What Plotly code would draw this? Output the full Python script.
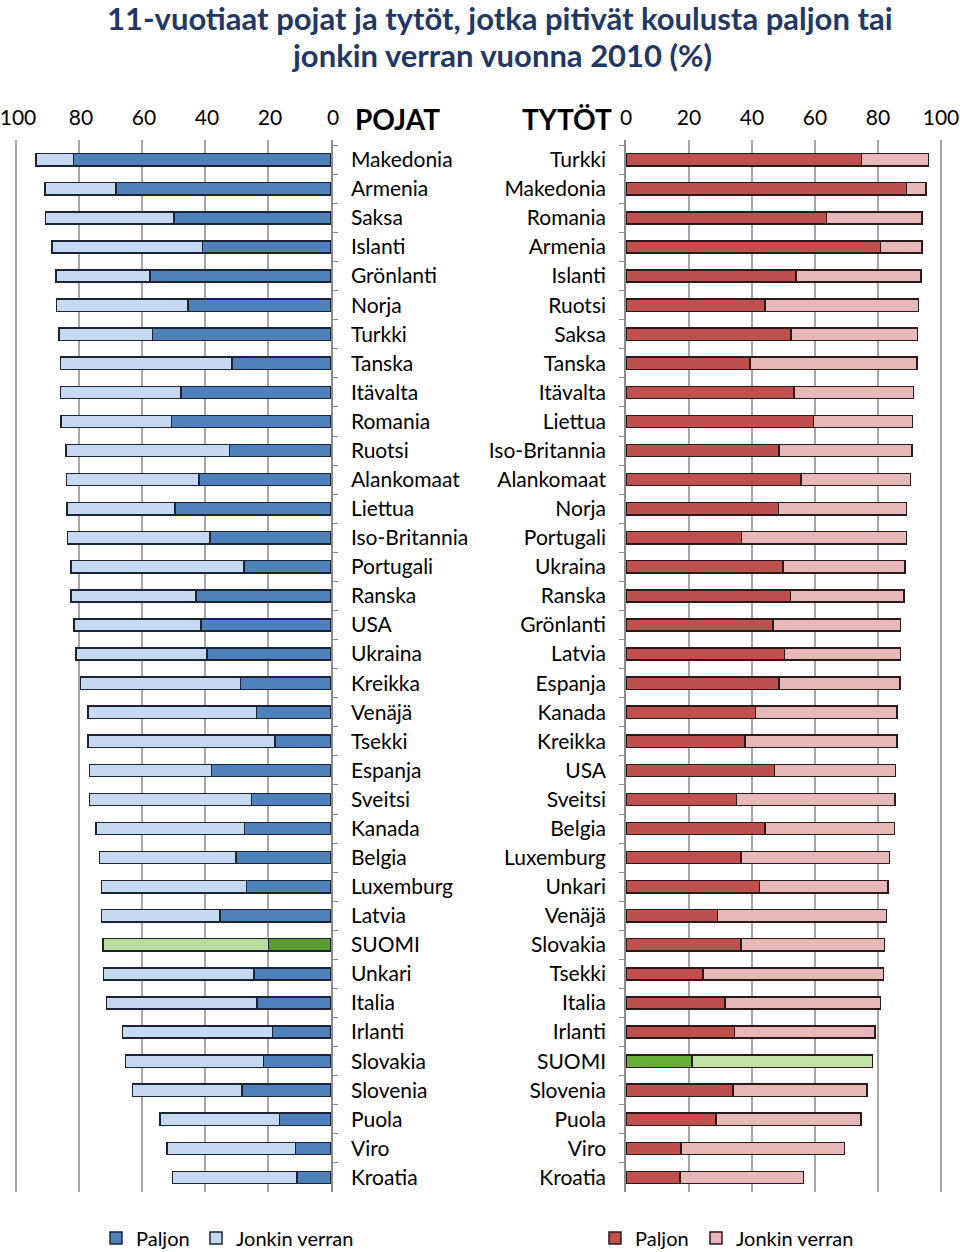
import plotly.graph_objects as go

boys_countries = ["Makedonia", "Armenia", "Saksa", "Islanti", "Grönlanti", "Norja", "Turkki", "Tanska",
                  "Itävalta", "Romania", "Ruotsi", "Alankomaat", "Liettua", "Iso-Britannia", "Portugali",
                  "Ranska", "USA", "Ukraina", "Kreikka", "Venäjä", "Tsekki", "Espanja", "Sveitsi", "Kanada",
                  "Belgia", "Luxemburg", "Latvia", "SUOMI", "Unkari", "Italia", "Irlanti", "Slovakia",
                  "Slovenia", "Puola", "Viro", "Kroatia"]
boys_paljon = [81.8, 68.3, 49.9, 40.8, 57.5, 45.4, 56.6, 31.5, 47.6, 50.7, 32.3, 41.9, 49.5, 38.4, 27.6,
               42.8, 41.3, 39.4, 28.7, 23.6, 17.8, 38.0, 25.2, 27.4, 30.2, 26.9, 35.3, 19.9, 24.4, 23.5,
               18.6, 21.5, 28.2, 16.3, 11.2, 10.8]
boys_jonkin = [11.8, 22.5, 40.8, 47.8, 29.8, 41.8, 29.8, 54.4, 38.3, 35.0, 51.9, 42.1, 34.3, 45.3, 54.9,
               39.7, 40.3, 41.5, 50.8, 53.5, 59.3, 38.6, 51.4, 47.2, 43.3, 46.0, 37.5, 52.5, 47.8, 47.7,
               47.6, 43.8, 34.8, 38.0, 40.9, 39.5]

girls_countries = ["Turkki", "Makedonia", "Romania", "Armenia", "Islanti", "Ruotsi", "Saksa", "Tanska",
                   "Itävalta", "Liettua", "Iso-Britannia", "Alankomaat", "Norja", "Portugali", "Ukraina",
                   "Ranska", "Grönlanti", "Latvia", "Espanja", "Kanada", "Kreikka", "USA", "Sveitsi",
                   "Belgia", "Luxemburg", "Unkari", "Venäjä", "Slovakia", "Tsekki", "Italia", "Irlanti",
                   "SUOMI", "Slovenia", "Puola", "Viro", "Kroatia"]
girls_paljon = [74.7, 89.1, 63.7, 80.8, 53.9, 44.2, 52.4, 39.4, 53.3, 59.5, 48.6, 55.6, 48.4, 36.6, 49.8,
                52.2, 46.6, 50.3, 48.6, 41.1, 37.8, 47.2, 35.1, 44.2, 36.5, 42.4, 29.1, 36.5, 24.4, 31.4,
                34.5, 21.0, 33.9, 28.6, 17.5, 17.1]
girls_jonkin = [21.4, 6.1, 30.3, 13.1, 39.8, 48.6, 40.1, 52.9, 37.9, 31.4, 42.2, 34.7, 40.7, 52.4, 38.8,
                36.1, 40.5, 36.8, 38.3, 45.0, 48.2, 38.3, 50.3, 41.0, 47.2, 40.8, 53.6, 45.6, 57.3, 49.4,
                44.5, 57.2, 42.6, 46.0, 51.8, 39.3]

x_ticks = [0, 20, 40, 60, 80, 100]
highlight = "SUOMI"
title_lines = ["11-vuotiaat pojat ja tytöt, jotka pitivät koulusta paljon tai",
               "jonkin verran vuonna 2010 (%)"]

FONT = "Lato, 'Open Sans', sans-serif"
BLUE_D, BLUE_L = "#4F81BD", "#C6D9F1"
RED_D, RED_L = "#C0504D", "#E6B9B8"
GREEN_D_B, GREEN_L_B = "#5B9B30", "#B9DCA0"
GREEN_D_G, GREEN_L_G = "#6AAE3A", "#C3E2A7"

W, H = 960, 1252
L, R, T, B = 14, 17, 140, 60
PW, PH = W - L - R, H - T - B
XMAX = 100.63  # small pad so the 100 gridline is drawn inside the plot area

def colors(countries, normal, hl):
    return [hl if c == highlight else normal for c in countries]

def px_to_paper_y(ypx):
    return 1 - (ypx - T) / PH

def px_to_paper_x(xpx):
    return (xpx - L) / PW

fig = go.Figure()
bar_w = 0.42
specs = [
    (boys_countries, boys_paljon, "Paljon", colors(boys_countries, BLUE_D, GREEN_D_B), "#1a2433", "x", "y", "legend"),
    (boys_countries, boys_jonkin, "Jonkin verran", colors(boys_countries, BLUE_L, GREEN_L_B), "#1a2433", "x", "y", "legend2"),
    (girls_countries, girls_paljon, "Paljon", colors(girls_countries, RED_D, GREEN_D_G), "#2a1a1a", "x2", "y2", "legend3"),
    (girls_countries, girls_jonkin, "Jonkin verran", colors(girls_countries, RED_L, GREEN_L_G), "#2a1a1a", "x2", "y2", "legend4"),
]
for cats, vals, name, cols, lc, xa, ya, lg in specs:
    fig.add_trace(go.Bar(y=cats, x=vals, orientation="h", name=name,
                         marker=dict(color=cols, line=dict(color=lc, width=1.5)),
                         width=bar_w, xaxis=xa, yaxis=ya, legend=lg))

n = len(boys_countries)
yrange = [n - 0.5, -0.68]
common_x = dict(tickvals=x_ticks, ticktext=[str(v) for v in x_ticks], side="top",
                showgrid=True, gridcolor="#A6A6A6", gridwidth=1.5, zeroline=False, showline=False,
                ticks="", ticklabelstandoff=10, automargin=False, ticklabeloverflow="allow",
                tickfont=dict(size=21, color="black", family=FONT), fixedrange=True)
common_y = dict(categoryorder="array", range=yrange, showline=True, linecolor="#8C8C8C", linewidth=1.5,
                ticks="outside", tickson="boundaries", ticklen=5, tickcolor="#8C8C8C",
                ticklabelstandoff=14, showgrid=False, automargin=False,
                tickfont=dict(size=21, color="black", family=FONT), fixedrange=True)

legend_common = dict(orientation="h", xref="container", yref="container", xanchor="left",
                     y=1 - 1238 / H, yanchor="middle", traceorder="normal",
                     font=dict(size=20, color="black", family=FONT), bgcolor="rgba(0,0,0,0)")

annotations = [
    dict(text="<b>" + title_lines[0] + "</b>", xref="paper", yref="paper", x=px_to_paper_x(500), xanchor="center",
         y=px_to_paper_y(18), yanchor="middle", showarrow=False, borderpad=0,
         font=dict(size=31, color="#1F3864", family=FONT)),
    dict(text="<b>" + title_lines[1] + "</b>", xref="paper", yref="paper", x=px_to_paper_x(501), xanchor="center",
         y=px_to_paper_y(55), yanchor="middle", showarrow=False, borderpad=0,
         font=dict(size=31, color="#1F3864", family=FONT)),
    dict(text="<b>POJAT</b>", xref="paper", yref="paper", x=px_to_paper_x(353), xanchor="left",
         y=px_to_paper_y(119), yanchor="middle", showarrow=False,
         font=dict(size=28, color="black", family=FONT)),
    dict(text="<b>TYTÖT</b>", xref="paper", yref="paper", x=px_to_paper_x(614), xanchor="right",
         y=px_to_paper_y(119), yanchor="middle", showarrow=False,
         font=dict(size=28, color="black", family=FONT)),
]

fig.update_layout(
    width=W, height=H,
    margin=dict(l=L, r=R, t=T, b=B, autoexpand=False),
    paper_bgcolor="white", plot_bgcolor="white",
    barmode="stack",
    font=dict(family=FONT, color="black"),
    xaxis=dict(common_x, domain=[0, px_to_paper_x(331)], range=[XMAX, 0], anchor="y", ticklabelshift=-2),
    xaxis2=dict(common_x, domain=[px_to_paper_x(626), 1], range=[0, XMAX], anchor="y2"),
    yaxis=dict(common_y, categoryarray=boys_countries, anchor="x", side="right"),
    yaxis2=dict(common_y, categoryarray=girls_countries, anchor="x2", side="left"),
    legend=dict(legend_common, x=96 / W),
    legend2=dict(legend_common, x=196 / W),
    legend3=dict(legend_common, x=595 / W),
    legend4=dict(legend_common, x=696 / W),
    showlegend=True,
    annotations=annotations,
)

fig.write_html("out.html", config={"displayModeBar": False},
               post_script="document.body.style.margin='0px';document.body.style.overflow='hidden';")
